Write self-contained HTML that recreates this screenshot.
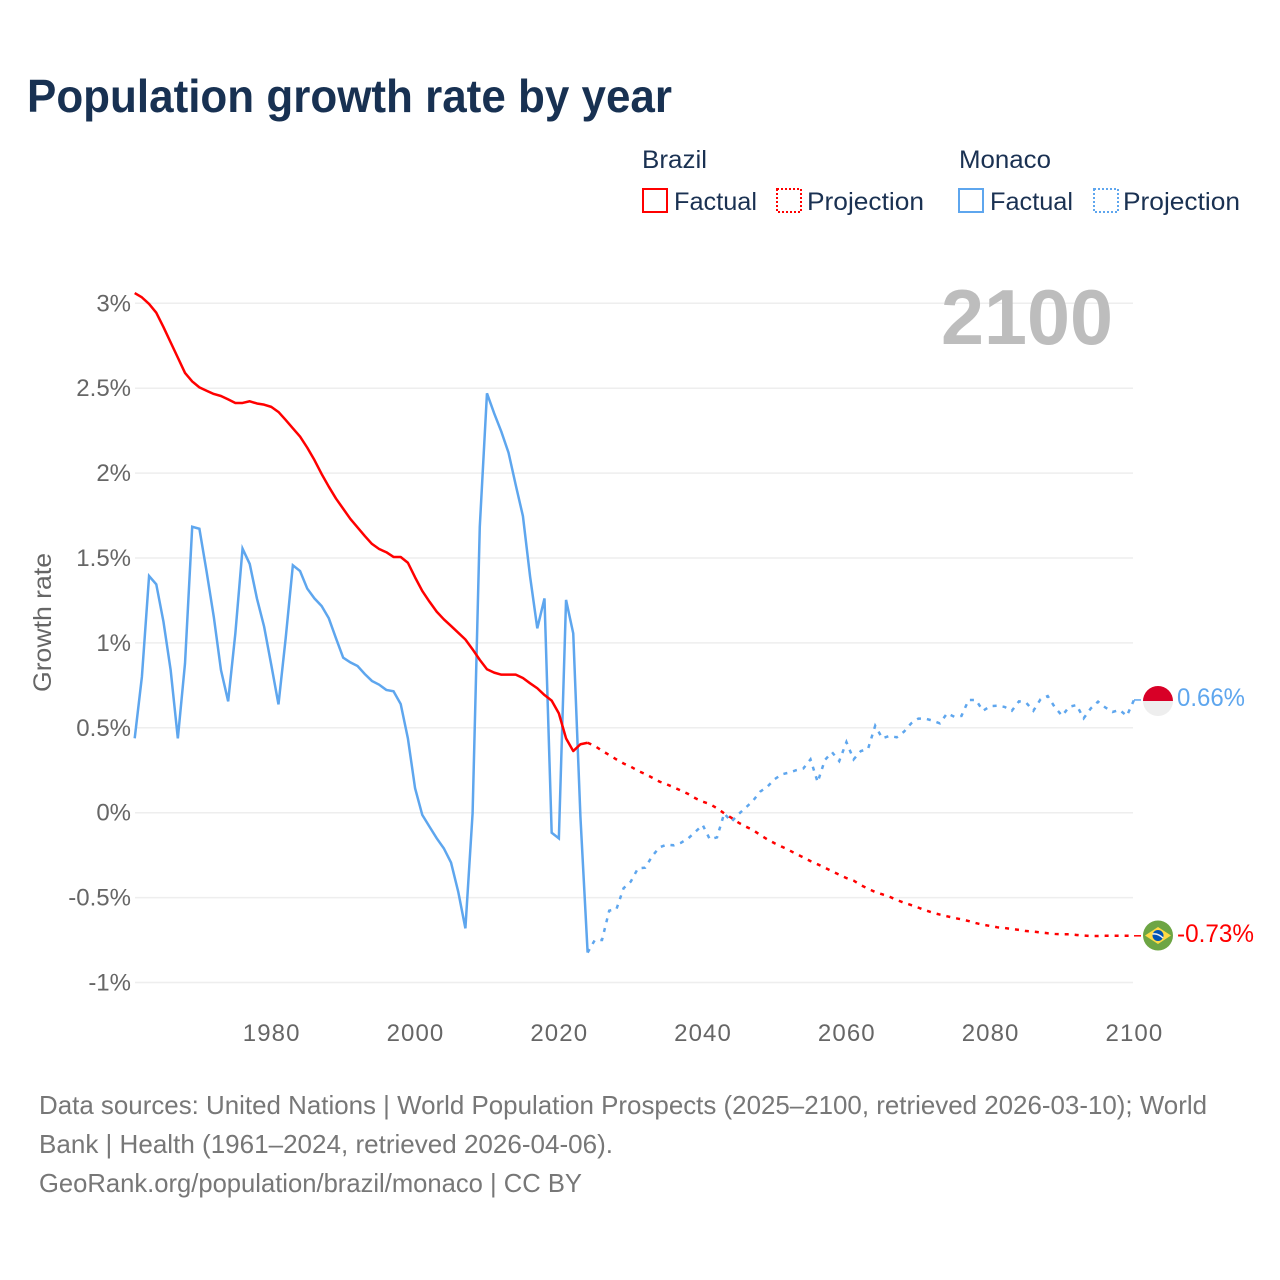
<!DOCTYPE html>
<html lang="en">
<head>
<meta charset="utf-8">
<title>Population growth rate by year</title>
<style>
html,body{margin:0;padding:0;background:#fff;}
svg{display:block;font-family:"Liberation Sans",sans-serif;}
.tick{font-size:24px;fill:#666;}
.legend{font-size:25px;fill:#1a3152;}
.foot{font-size:26px;fill:#777;}
</style>
</head>
<body>
<svg id="chart" xmlns="http://www.w3.org/2000/svg" width="1280" height="1280" viewBox="0 0 1280 1280">
  <rect width="1280" height="1280" fill="#fff"/>
  <text x="27" y="112" font-size="46" font-weight="700" fill="#183152" textLength="645" lengthAdjust="spacingAndGlyphs">Population growth rate by year</text>

  <g>
    <text class="legend" x="642" y="168" textLength="65" lengthAdjust="spacingAndGlyphs">Brazil</text>
    <rect x="643" y="189" width="24" height="23" fill="none" stroke="#ff0000" stroke-width="2"/>
    <text class="legend" x="674" y="210" textLength="83" lengthAdjust="spacingAndGlyphs">Factual</text>
    <rect x="777" y="189" width="24" height="23" fill="none" stroke="#ff0000" stroke-width="2" stroke-dasharray="2 2"/>
    <text class="legend" x="807" y="210" textLength="117" lengthAdjust="spacingAndGlyphs">Projection</text>
    <text class="legend" x="959" y="168" textLength="92" lengthAdjust="spacingAndGlyphs">Monaco</text>
    <rect x="959" y="189" width="24" height="23" fill="none" stroke="#5ea6ee" stroke-width="2"/>
    <text class="legend" x="990" y="210" textLength="83" lengthAdjust="spacingAndGlyphs">Factual</text>
    <rect x="1094" y="189" width="24" height="23" fill="none" stroke="#5ea6ee" stroke-width="2" stroke-dasharray="2 2"/>
    <text class="legend" x="1123" y="210" textLength="117" lengthAdjust="spacingAndGlyphs">Projection</text>
  </g>

  <g id="grid"></g>
  <g id="yticks"></g>
  <g id="xticks"></g>

  <text transform="translate(51 692) rotate(-90)" font-size="25" fill="#666" textLength="139" lengthAdjust="spacingAndGlyphs">Growth rate</text>
  <text x="941" y="344" font-size="78" font-weight="700" fill="#bdbdbd" textLength="172" lengthAdjust="spacingAndGlyphs">2100</text>

  <g id="series"></g>

  <g>
    <clipPath id="clip-mc"><circle cx="1158" cy="701" r="15"/></clipPath>
    <g clip-path="url(#clip-mc)">
      <rect x="1143" y="686" width="30" height="15" fill="#d80027"/>
      <rect x="1143" y="701" width="30" height="15" fill="#eeeeee"/>
    </g>
  </g>
  <g>
    <circle cx="1158" cy="935.500" r="15" fill="#6da544"/>
    <polygon points="1158,927 1171,935.500 1158,944 1145,935.500" fill="#ffda44"/>
    <circle cx="1158" cy="935.500" r="5.500" fill="#0052b4"/>
    <path d="M1152.500 934 Q1158 933 1163 938" fill="none" stroke="#f0f0f0" stroke-width="1.500"/>
  </g>
  <text x="1177" y="706" font-size="25" fill="#5ea6ee" textLength="68" lengthAdjust="spacingAndGlyphs">0.66%</text>
  <text x="1177" y="942" font-size="25" fill="#ff0000" textLength="77" lengthAdjust="spacingAndGlyphs">-0.73%</text>

  <g>
    <text class="foot" x="39" y="1114" textLength="1168" lengthAdjust="spacingAndGlyphs">Data sources: United Nations | World Population Prospects (2025–2100, retrieved 2026-03-10); World</text>
    <text class="foot" x="39" y="1153" textLength="574" lengthAdjust="spacingAndGlyphs">Bank | Health (1961–2024, retrieved 2026-04-06).</text>
    <text class="foot" x="39" y="1192" textLength="543" lengthAdjust="spacingAndGlyphs">GeoRank.org/population/brazil/monaco | CC BY</text>
  </g>
</svg>
<script>
const yTickValues = [3, 2.5, 2, 1.5, 1, 0.5, 0, -0.5, -1];
const xTickValues = [1980, 2000, 2020, 2040, 2060, 2080, 2100];
const factualStartYear = 1961;
const projectionStartYear = 2024;

const brazilFactual = [
  3.06,3.035,2.996,2.945,2.86,2.77,2.68,2.59,2.54,2.505,
  2.485,2.466,2.454,2.434,2.413,2.413,2.423,2.41,2.403,2.39,
  2.36,2.313,2.264,2.215,2.15,2.077,1.995,1.92,1.85,1.79,
  1.73,1.68,1.63,1.583,1.553,1.534,1.506,1.506,1.472,1.386,
  1.306,1.243,1.184,1.139,1.10,1.06,1.02,0.962,0.90,0.845,
  0.825,0.813,0.813,0.813,0.793,0.762,0.733,0.693,0.66,0.585,
  0.438,0.363,0.403,0.412
];
const brazilProjection = [
  0.412,0.393,0.365,0.34,0.314,0.29,0.271,0.247,0.228,0.206,
  0.183,0.167,0.149,0.13,0.11,0.085,0.065,0.051,0.026,-0.004,
  -0.03,-0.059,-0.082,-0.102,-0.131,-0.157,-0.18,-0.2,-0.22,-0.243,
  -0.263,-0.285,-0.304,-0.324,-0.345,-0.365,-0.385,-0.40,-0.426,-0.448,
  -0.467,-0.481,-0.495,-0.514,-0.53,-0.544,-0.559,-0.575,-0.589,-0.60,
  -0.61,-0.62,-0.628,-0.638,-0.65,-0.66,-0.667,-0.675,-0.679,-0.685,
  -0.69,-0.697,-0.70,-0.705,-0.71,-0.714,-0.716,-0.716,-0.72,-0.724,
  -0.726,-0.726,-0.725,-0.725,-0.725,-0.725,-0.725
];
const monacoFactual = [
  0.438,0.80,1.394,1.345,1.125,0.84,0.438,0.88,1.684,1.672,
  1.42,1.154,0.84,0.656,1.056,1.555,1.465,1.262,1.096,0.87,
  0.638,1.027,1.457,1.423,1.32,1.262,1.217,1.145,1.027,0.913,
  0.885,0.864,0.817,0.776,0.754,0.723,0.715,0.64,0.438,0.144,
  -0.013,-0.082,-0.15,-0.21,-0.294,-0.465,-0.681,-0.004,1.684,2.47,
  2.352,2.244,2.12,1.93,1.747,1.39,1.086,1.262,-0.118,-0.151,
  1.253,1.056,-0.024,-0.824
];
const monacoProjection = [
  -0.824,-0.75,-0.75,-0.577,-0.569,-0.445,-0.406,-0.328,-0.324,-0.255,
  -0.204,-0.188,-0.192,-0.177,-0.151,-0.112,-0.072,-0.157,-0.145,-0.004,
  -0.053,-0.008,0.03,0.07,0.124,0.153,0.197,0.226,0.236,0.25,
  0.26,0.314,0.18,0.31,0.356,0.304,0.416,0.314,0.363,0.375,
  0.512,0.438,0.452,0.444,0.477,0.526,0.554,0.554,0.542,0.526,
  0.585,0.565,0.57,0.664,0.664,0.60,0.628,0.63,0.623,0.60,
  0.656,0.648,0.60,0.668,0.687,0.62,0.571,0.624,0.634,0.556,
  0.615,0.654,0.62,0.593,0.605,0.57,0.664
];

function xScale(year) { return 134.7 + (year - 1961) * (999.3 / 139); }
function yScale(value) { return 812.7 - value * 169.8; }

const NS = 'http://www.w3.org/2000/svg';
function make(tag, attrs, parent) {
  const el = document.createElementNS(NS, tag);
  for (const k in attrs) el.setAttribute(k, attrs[k]);
  parent.appendChild(el);
  return el;
}
function linePath(values, startYear) {
  return values.map((v, i) => (i ? 'L' : 'M') + xScale(startYear + i).toFixed(2) + ' ' + yScale(v).toFixed(2)).join(' ');
}

const grid = document.getElementById('grid');
const yticks = document.getElementById('yticks');
const xticks = document.getElementById('xticks');
const series = document.getElementById('series');

yTickValues.forEach(v => {
  const line = make('line', {x1: 135, x2: 1133, y1: yScale(v), y2: yScale(v), stroke: '#eeeeee', 'stroke-width': 1.5}, grid);
  
  
  const t = make('text', {x: 131, y: yScale(v) + 8, 'text-anchor': 'end', class: 'tick'}, yticks);
  t.textContent = v + '%';
  
  
});

xTickValues.forEach(y => {
  const t = make('text', {x: xScale(y) + 0.4, y: 1041, 'text-anchor': 'middle', class: 'tick', 'letter-spacing': 1.1}, xticks);
  t.textContent = y;
  
  
});

const mf = make('path', {d: linePath(monacoFactual, factualStartYear), fill: 'none', stroke: '#5ea6ee', 'stroke-width': 2.5, 'stroke-linejoin': 'miter'}, series);



const mp = make('path', {d: linePath(monacoProjection, projectionStartYear), fill: 'none', stroke: '#5ea6ee', 'stroke-width': 2.5, 'stroke-dasharray': '4 6'}, series);



const bf = make('path', {d: linePath(brazilFactual, factualStartYear), fill: 'none', stroke: '#ff0000', 'stroke-width': 2.5, 'stroke-linejoin': 'round'}, series);



const bp = make('path', {d: linePath(brazilProjection, projectionStartYear), fill: 'none', stroke: '#ff0000', 'stroke-width': 2.5, 'stroke-dasharray': '4 6'}, series);



const lastBrazil = brazilProjection[brazilProjection.length - 1];
const lastMonaco = monacoProjection[monacoProjection.length - 1];
const cb = make('line', {x1: xScale(2100), x2: xScale(2100) + 7, y1: yScale(lastBrazil), y2: yScale(lastBrazil), stroke: '#ff0000', 'stroke-width': 1.5}, series);


const cm = make('line', {x1: xScale(2100), x2: xScale(2100) + 7, y1: yScale(lastMonaco), y2: yScale(lastMonaco), stroke: '#5ea6ee', 'stroke-width': 1.5}, series);


</script>
</body>
</html>
